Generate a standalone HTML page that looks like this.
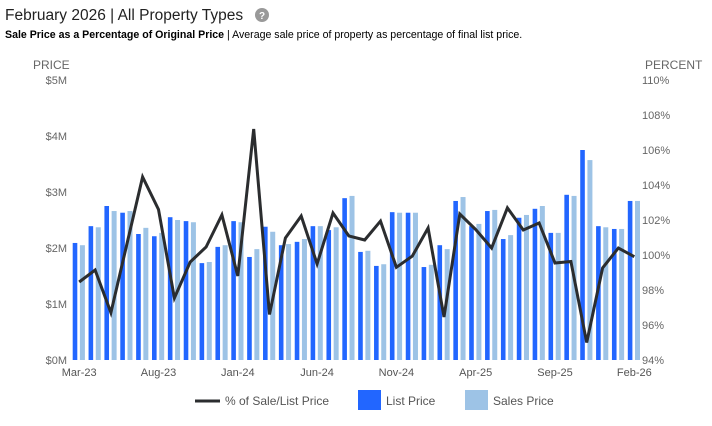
<!DOCTYPE html>
<html><head><meta charset="utf-8">
<style>
body{margin:0;background:#fff;font-family:"Liberation Sans",Arial,sans-serif;}
svg text{font-family:"Liberation Sans",Arial,sans-serif;}
</style></head>
<body>
<svg id="chart" width="712" height="421" viewBox="0 0 712 421">
  <text x="5" y="20" font-size="15.5" fill="#222">February 2026 | All Property Types</text>
  <g>
    <circle cx="262" cy="15" r="7" fill="#999"/>
    <text x="262" y="19" font-size="10" font-weight="bold" fill="#fff" text-anchor="middle">?</text>
  </g>
  <text x="5" y="38" font-size="10.6" fill="#000"><tspan font-weight="bold">Sale Price as a Percentage of Original Price</tspan> | Average sale price of property as percentage of final list price.</text>
  <text x="33" y="69" font-size="12" fill="#666">PRICE</text>
  <text x="645" y="69" font-size="12" fill="#666">PERCENT</text>
  <g id="yl"></g><g id="yr"></g><g id="xl"></g><g id="bars"></g><g id="line"></g>
  <g>
    <g>
      <line x1="195" y1="401" x2="220" y2="401" stroke="#2b2d2f" stroke-width="3"/>
      <text x="225" y="405" font-size="12" fill="#555">% of Sale/List Price</text>
    </g>
    <g>
      <rect x="358" y="390" width="23" height="20" fill="#2266ff"/>
      <text x="386" y="405" font-size="12" fill="#555">List Price</text>
    </g>
    <g>
      <rect x="465" y="390" width="23" height="20" fill="#9dc3e6"/>
      <text x="493" y="405" font-size="12" fill="#555">Sales Price</text>
    </g>
  </g>
</svg>
<script>
const months = ["Mar-23","Apr-23","May-23","Jun-23","Jul-23","Aug-23","Sep-23","Oct-23","Nov-23","Dec-23","Jan-24","Feb-24","Mar-24","Apr-24","May-24","Jun-24","Jul-24","Aug-24","Sep-24","Oct-24","Nov-24","Dec-24","Jan-25","Feb-25","Mar-25","Apr-25","May-25","Jun-25","Jul-25","Aug-25","Sep-25","Oct-25","Nov-25","Dec-25","Jan-26","Feb-26"];
const listPrice = [2.09,2.39,2.75,2.63,2.25,2.21,2.55,2.48,1.73,2.02,2.48,1.84,2.38,2.05,2.11,2.39,2.32,2.89,1.93,1.68,2.64,2.63,1.66,2.05,2.84,2.39,2.66,2.16,2.54,2.70,2.27,2.95,3.75,2.39,2.34,2.84];
const salesPrice = [2.05,2.37,2.66,2.66,2.36,2.27,2.50,2.46,1.75,2.05,2.46,1.98,2.29,2.07,2.16,2.39,2.37,2.93,1.95,1.71,2.63,2.63,1.70,1.98,2.91,2.43,2.68,2.23,2.59,2.75,2.27,2.93,3.57,2.37,2.34,2.84];
const pctSaleList = [98.46,99.14,96.7,100.6,104.46,102.6,97.54,99.6,100.46,102.29,98.8,107.2,96.6,100.97,102.23,99.49,102.4,101.09,100.86,101.94,99.3,99.94,101.54,96.46,102.34,101.46,100.4,102.69,101.43,101.83,99.54,99.63,95.0,99.26,100.4,99.9];
const leftTicks = [0,1,2,3,4,5];
const leftTickLabels = ["$0M","$1M","$2M","$3M","$4M","$5M"];
const rightTicks = [94,96,98,100,102,104,106,108,110];
const xLabelIdx = [0,5,10,15,20,25,30,35];

const NS="http://www.w3.org/2000/svg";
const y0=360, y1=80;
const yL=v=>y0-(v/5)*(y0-y1);
const yR=v=>y0-((v-94)/16)*(y0-y1);
const step=15.86, bx0=72.7;
const xB=i=>bx0+i*step;
const xC=i=>xB(i)+6.5;
function mk(tag,attrs,parent,txt){const e=document.createElementNS(NS,tag);for(const k in attrs)e.setAttribute(k,attrs[k]);if(txt!==undefined)e.textContent=txt;document.getElementById(parent).appendChild(e);return e;}

leftTicks.forEach((t,i)=>{
  const e=mk('text',{x:67,y:yL(t)+4,'font-size':11,fill:'#666','text-anchor':'end'},'yl',leftTickLabels[i]);
  
  
});
rightTicks.forEach(t=>{
  const e=mk('text',{x:642,y:yR(t)+4,'font-size':11,fill:'#666'},'yr',t+'%');
  
  
});
xLabelIdx.forEach(i=>{
  const e=mk('text',{x:xC(i),y:376,'font-size':11,fill:'#555','text-anchor':'middle'},'xl',months[i]);
  
  
});
months.forEach((m,i)=>{
  const a=mk('rect',{x:xB(i),y:yL(listPrice[i]),width:4.6,height:y0-yL(listPrice[i]),fill:'#2266ff'},'bars');
  
  
  const b=mk('rect',{x:xB(i)+7.2,y:yL(salesPrice[i]),width:5,height:y0-yL(salesPrice[i]),fill:'#9dc3e6'},'bars');
  
  
});
const pts=pctSaleList.map((v,i)=>xC(i).toFixed(1)+','+yR(v).toFixed(1)).join(' ');
const pl=mk('polyline',{points:pts,fill:'none',stroke:'#2b2d2f','stroke-width':3,'stroke-linejoin':'miter'},'line');


</script>
</body></html>
